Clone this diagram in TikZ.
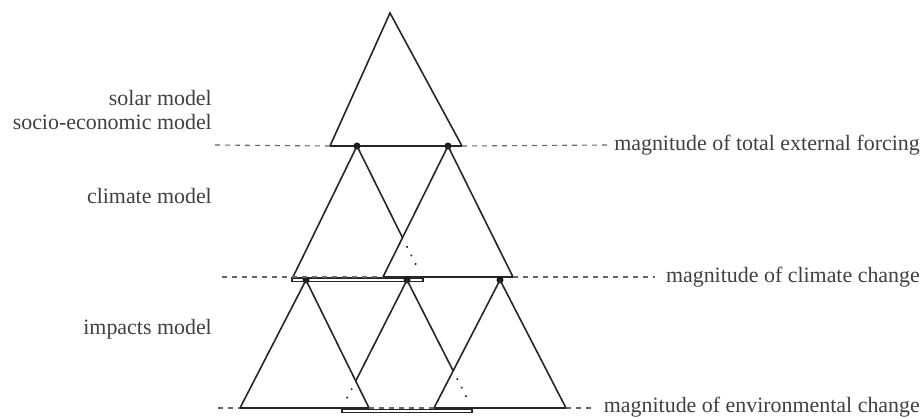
\documentclass[tikz,border=0pt]{standalone}
\usepackage{fontspec}
\setmainfont{Liberation Serif}
\usetikzlibrary{calc}
\begin{document}
\begin{tikzpicture}[x=1bp,y=-1bp,
  tri/.style={draw=black!85, line width=1.6bp, line join=miter},
  bar/.style={draw=black!85, line width=1.1bp},
  lvl/.style={draw=black!60, line width=1.1bp, dash pattern=on 5bp off 5bp},
  hid/.style={draw=black!85, line width=2.2bp, dash pattern=on 0.1bp off 9.5bp, line cap=round},
  jn/.style={circle, fill=black!90, inner sep=0pt, minimum size=7bp},
  lbl/.style={font=\fontsize{22}{26}\selectfont, text=black!75, inner sep=0pt}]
\useasboundingbox (0,0) rectangle (923,418);
% ---- top triangle
\coordinate (A0) at (390,13);
\coordinate (A0l) at (330,146);
\coordinate (A0r) at (462,146);
\draw[tri] (A0l) -- (A0) -- (A0r);
\draw[draw=black!85, line width=2.8bp] (A0l) -- (A0r);
\node[jn] (j1) at (357,146) {};
\node[jn] (j2) at (448,146) {};
% ---- level 2
\coordinate (B1l) at (292,279);
\coordinate (B1r) at (423,279);
\coordinate (B2l) at (383,277);
\coordinate (B2r) at (513,277);
\coordinate (X1) at (intersection of j1.center--B1r and j2.center--B2l);
\draw[bar] (292,278) rectangle (423,281.5);
\draw[tri] (B1l) -- (j1.center) -- (X1);
\draw[hid] ($(X1)!0.22!(B1r)$) -- ($(X1)!0.80!(B1r)$);
\draw[tri] (B2l) -- (j2.center) -- (B2r) -- cycle;
\node[jn] (k1) at (306,280) {};
\node[jn] (k2) at (407,280) {};
\node[jn] (k3) at (500,280) {};
% ---- level 3
\coordinate (C1l) at (240,408);
\coordinate (C1r) at (369,408);
\coordinate (C2l) at (342,408);
\coordinate (C2r) at (472,408);
\coordinate (C3l) at (434,408);
\coordinate (C3r) at (566,408);
\coordinate (X2) at (intersection of k1.center--C1r and k2.center--C2l);
\coordinate (X3) at (intersection of k2.center--C2r and k3.center--C3l);
\draw[bar] (342,409.5) rectangle (472,412.5);
\draw[tri] (C1l) -- (k1.center) -- (C1r) -- cycle;
\draw[tri] (X2) -- (k2.center) -- (X3);
\draw[hid] ($(X2)!0.30!(C2l)$) -- ($(X2)!0.80!(C2l)$);
\draw[hid] ($(X3)!0.22!(C2r)$) -- ($(X3)!0.85!(C2r)$);
\draw[tri] (C3l) -- (k3.center) -- (C3r) -- cycle;
% ---- labels
\node[lbl, anchor=base east] (s1) at (212,105) {solar model};
\node[lbl, anchor=base east] (s2) at (212,129) {socio-economic model};
\node[lbl, anchor=base east] (s3) at (212,203) {climate model};
\node[lbl, anchor=base east] (s4) at (212,334) {impacts model};
\node[lbl, anchor=base east] (f1) at (920,150) {magnitude of total external forcing};
\node[lbl, anchor=base east] (f2) at (920,282) {magnitude of climate change};
\node[lbl, anchor=base east] (f3) at (920,412) {magnitude of environmental change};
% ---- level lines
\coordinate (L1a) at (215,145);
\coordinate (L1b) at (607,145);
\coordinate (L2a) at (222,277);
\coordinate (L2b) at (655,277);
\coordinate (L3a) at (218,408);
\coordinate (L3b) at (594,408);
\draw[lvl] (L1a) -- (A0l);
\draw[lvl] (A0r) -- (L1b);
\draw[lvl] (L2a) -- (B2l);
\draw[lvl] (B2r) -- (L2b);
\draw[lvl] (L3a) -- (C1l);
\draw[lvl] (C1r) -- (C3l);
\draw[lvl] (C3r) -- (L3b);
\end{tikzpicture}
\end{document}
